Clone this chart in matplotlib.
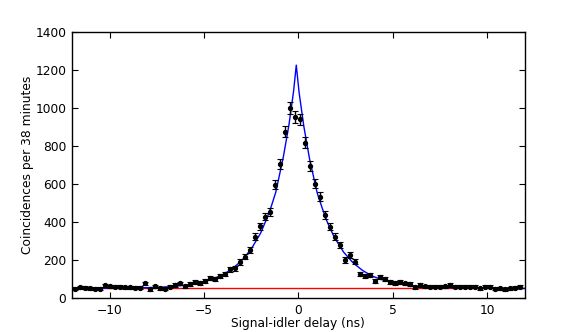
import matplotlib
matplotlib.use("Agg")
import matplotlib.pyplot as plt
import numpy as np

# time-bin centres (ns) and counts per bin
bin_width = 0.265
delay = 0.1 + bin_width * np.arange(-45, 45)
counts = [
    49, 56, 55, 51, 49, 49, 67, 63, 60, 60,
    56, 56, 55, 55, 77, 46, 62, 51, 49, 60,
    69, 77, 63, 75, 85, 80, 90, 106, 99, 116,
    128, 151, 157, 190, 218, 253, 324, 378, 429, 452,
    597, 706, 875, 1002, 954, 940, 817, 697, 602, 533,
    436, 376, 324, 280, 201, 227, 192, 125, 116, 121,
    90, 109, 100, 84, 79, 86, 77, 74, 56, 69,
    63, 60, 60, 60, 62, 69, 60, 60, 60, 60,
    60, 51, 60, 60, 49, 51, 46, 51, 55, 60,
]
errors = np.sqrt(counts)

# fitted curve
fit_x = [-12.0, -10.0, -8.0, -7.0, -6.0, -5.0, -4.5, -4.0, -3.5, -3.0,
         -2.5, -2.0, -1.7, -1.45, -1.2, -0.8, -0.5, -0.25, -0.11, 0.04,
         0.29, 0.6, 1.0, 1.25, 1.5, 1.9, 2.4, 2.9, 3.4, 3.9,
         4.4, 4.9, 5.9, 6.9, 7.9, 10.0, 12.0]
fit_y = [51, 52, 55, 59, 68, 86, 102, 124, 154, 198,
         258, 342, 412, 478, 556, 740, 910, 1090, 1225, 1081,
         904, 729, 553, 478, 408, 321, 242, 186, 146, 117,
         98, 84, 67, 59, 55, 52, 51]

# accidental background level
background = 51
x_range = [-12, 12]

fs = 8.8
fig = plt.figure(figsize=(5.81, 3.32), dpi=100)
ax = fig.add_axes([0.124, 0.102, 0.779, 0.802])

ax.plot(x_range, [background, background], color="red", linewidth=1.0)
ax.plot(fit_x, fit_y, color="blue", linewidth=1.0)
ax.errorbar(delay, counts, yerr=errors, fmt="o", color="black",
            markersize=2.8, elinewidth=1.0, capsize=2.4, capthick=0.8)

ax.set_xlim(-12, 12)
ax.set_ylim(0, 1400)
ax.set_xticks([-10, -5, 0, 5, 10])
ax.set_yticks(np.arange(0, 1401, 200))
ax.set_xticklabels(["\u221210", "\u22125", "0", "5", "10"])
ax.tick_params(axis="both", direction="in", top=True, right=True,
               length=4, width=0.8, labelsize=fs, pad=4)
for s in ax.spines.values():
    s.set_linewidth(1.0)

ax.set_xlabel("Signal-idler delay (ns)", fontsize=fs, labelpad=0)
ax.set_ylabel("Coincidences per 38 minutes", fontsize=fs, labelpad=1)

fig.savefig("out.png", dpi=100)
